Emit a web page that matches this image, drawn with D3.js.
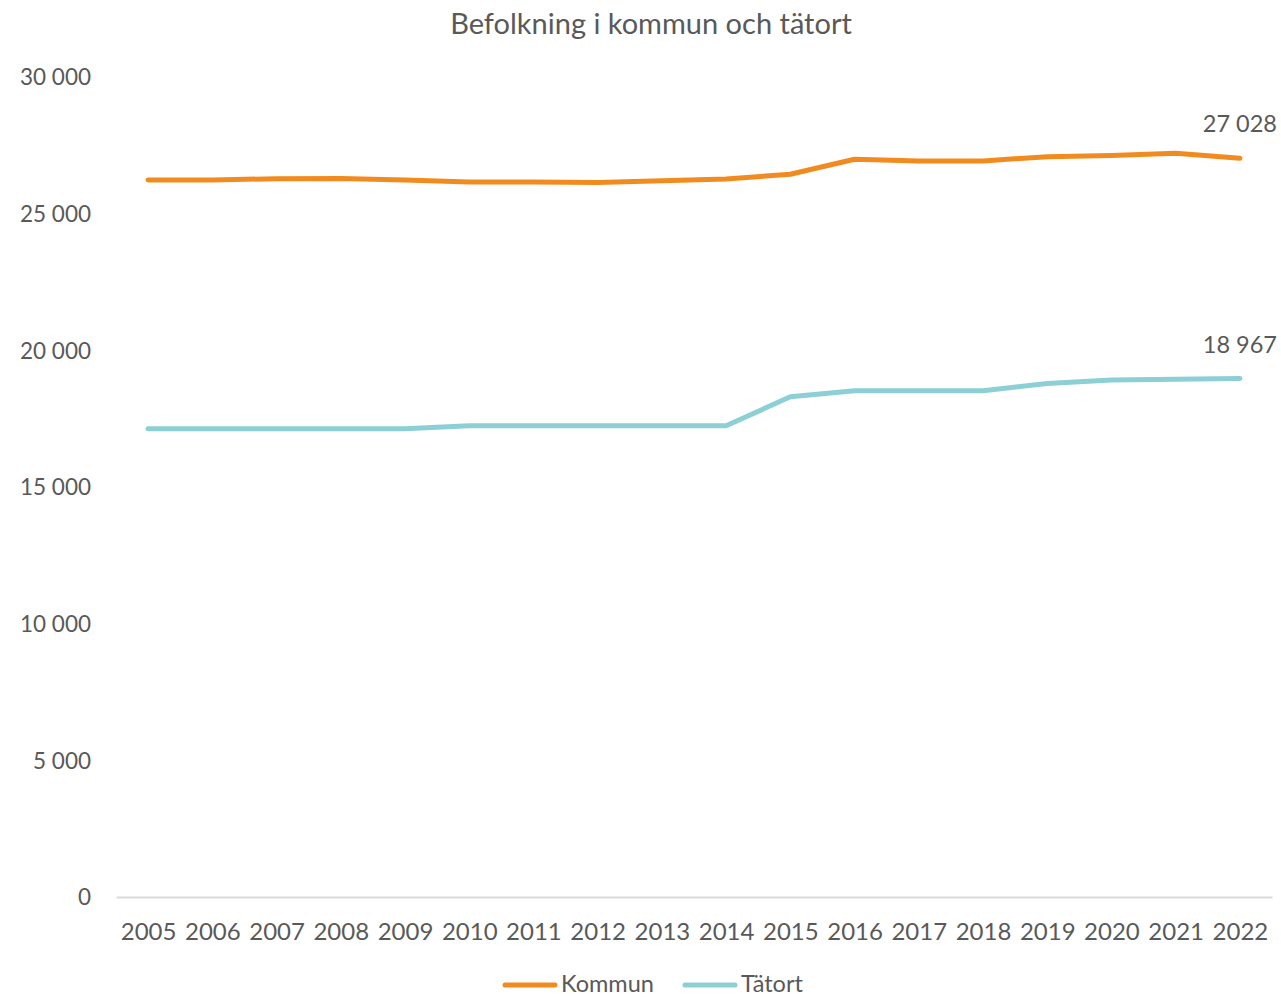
<!DOCTYPE html>
<html><head><meta charset="utf-8">
<script src="https://cdn.jsdelivr.net/npm/d3@7"></script>
<style>body{margin:0;background:#fff;} text{font-family:Lato, "Open Sans", sans-serif;fill:#595959;}</style>
</head><body>
<svg id="c" width="1281" height="997"></svg>
<script>
const years = ["2005","2006","2007","2008","2009","2010","2011","2012","2013","2014","2015","2016","2017","2018","2019","2020","2021","2022"];
const kommun = [26234,26230,26280,26290,26230,26160,26160,26140,26200,26270,26440,26990,26930,26930,27085,27130,27210,27028];
const tatort = [17133,17133,17133,17133,17133,17243,17243,17243,17243,17243,18300,18520,18520,18520,18790,18915,18940,18967];
const yTicks = [0,5000,10000,15000,20000,25000,30000];
const seriesNames = ["Kommun","Tätort"];
const colors = ["#f28b1f","#8ccfd4"];
const title = "Befolkning i kommun och tätort";

(function(){
const svg = d3.select("#c");
const mL = 116, mR = 1272, mT = 77, mB = 897;
const x = d3.scalePoint().domain(years).range([mL, mR]).padding(0.5);
const y = d3.scaleLinear().domain([0,30000]).range([mB, mT]);
const fmt = v => d3.format(",")(v).replace(/,/g, " ");

svg.append("text").attr("x", 651).attr("y", 34).attr("text-anchor","middle")
  .style("font-size","29px").text(title);

const ya = svg.append("g").attr("transform",`translate(${mL},0)`)
  .call(d3.axisLeft(y).tickValues(yTicks).tickSize(0).tickPadding(25).tickFormat(fmt));
ya.select(".domain").remove();
ya.selectAll("text").style("font-size","22.5px").style("font-family","Lato").attr("fill","#595959").attr("dy","0.35em");

const xa = svg.append("g").attr("transform",`translate(0,${mB})`)
  .call(d3.axisBottom(x).tickSize(0).tickPadding(26));
xa.select(".domain").attr("stroke","#d9d9d9").attr("stroke-width",2);
xa.selectAll("text").style("font-size","24px").style("font-family","Lato").attr("fill","#595959");

const line = d3.line().x((d,i)=>x(years[i])).y(d=>y(d));
[kommun, tatort].forEach((s,k)=>{
  svg.append("path").datum(s).attr("d", line).attr("fill","none")
    .attr("stroke", colors[k]).attr("stroke-width",5).attr("stroke-linecap","round").attr("stroke-linejoin","round");
  const last = s[s.length-1];
  svg.append("text").attr("x", x(years[years.length-1])).attr("y", y(last)-26)
    .attr("text-anchor","middle").style("font-size","23.5px").text(fmt(last));
});

const leg = [503,683];
seriesNames.forEach((n,k)=>{
  const g = svg.append("g").attr("transform",`translate(${leg[k]},985)`);
  g.append("line").attr("x1",2).attr("x2",52).attr("y1",0).attr("y2",0)
    .attr("stroke",colors[k]).attr("stroke-width",5).attr("stroke-linecap","round");
  g.append("text").attr("x",58).attr("y",0).attr("dy","0.3em").style("font-size","23.5px").text(n);
});
})();
</script>
</body></html>
